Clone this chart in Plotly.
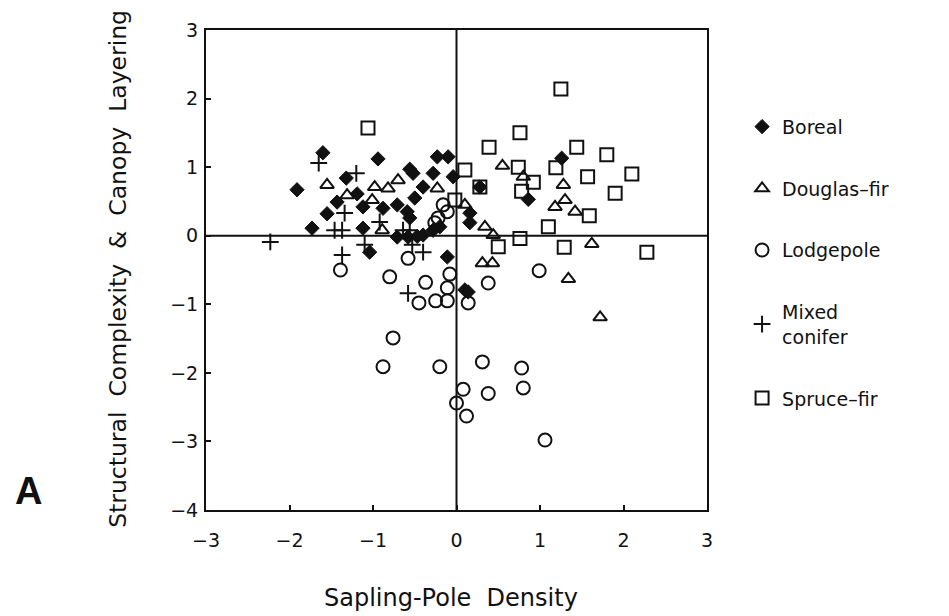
import plotly.graph_objects as go

# ---- data ----
boreal_x = [-1.91, -1.60, -1.32, -1.43, -1.55, -1.73, -0.94, -1.19, -1.12, -1.12, -1.04,
            -0.23, -0.10, -0.56, -0.52, -0.28, -0.04, -0.40, -0.50, -0.71, -0.59, -0.56,
            -0.88, -0.71, -0.58, -0.47, -0.40, -0.28, -0.20, -0.11, 0.16, 0.16, 0.28,
            0.86, 1.26, 0.10, 0.14]
boreal_y = [0.67, 1.21, 0.84, 0.49, 0.32, 0.11, 1.12, 0.61, 0.42, 0.11, -0.24,
            1.15, 1.15, 0.97, 0.91, 0.91, 0.86, 0.71, 0.55, 0.45, 0.35, 0.26,
            0.40, -0.02, -0.02, -0.01, 0.01, 0.08, 0.13, -0.31, 0.33, 0.19, 0.71,
            0.53, 1.13, -0.79, -0.82]

douglas_x = [-1.55, -1.31, -1.01, -0.98, -0.82, -0.70, -0.89, -0.23,
             0.55, 0.80, 1.28, 1.30, 1.18, 1.42, 0.10, 0.34, 0.44, 1.62,
             0.31, 0.43, 1.34, 1.72]
douglas_y = [0.74, 0.59, 0.52, 0.71, 0.69, 0.81, 0.08, 0.69,
             1.02, 0.86, 0.74, 0.52, 0.42, 0.35, 0.45, 0.13, 0.01, -0.12,
             -0.40, -0.40, -0.63, -1.19]

lodge_x = [-1.39, -0.58, -0.80, -0.37, -0.08, -0.11, -0.45, -0.25, -0.11, 0.14,
           0.38, 0.99, -0.76, -0.88, -0.20, 0.31, 0.78, 0.08, 0.38, 0.80,
           0.00, 0.12, 1.06, -0.16, -0.11, -0.22, -0.26]
lodge_y = [-0.50, -0.33, -0.60, -0.68, -0.56, -0.76, -0.98, -0.95, -0.95, -0.98,
           -0.69, -0.51, -1.49, -1.91, -1.91, -1.84, -1.93, -2.24, -2.30, -2.22,
           -2.44, -2.63, -2.98, 0.45, 0.35, 0.26, 0.19]

mixed_x = [-2.23, -1.65, -1.34, -1.46, -1.37, -1.37, -1.20, -1.10, -0.92,
           -0.64, -0.56, -0.53, -0.40, -0.58]
mixed_y = [-0.09, 1.06, 0.33, 0.08, 0.08, -0.28, 0.91, -0.13, 0.20,
           0.08, 0.08, -0.13, -0.24, -0.84]

spruce_x = [-1.06, 1.25, 0.76, 0.39, 1.44, 1.80, 0.10, 0.74, 1.19, 0.92, 1.57,
            2.10, 0.78, 1.90, 1.59, 0.28, -0.02, 1.10, 0.50, 0.76, 1.29, 2.28]
spruce_y = [1.57, 2.14, 1.50, 1.29, 1.29, 1.18, 0.96, 1.00, 0.99, 0.78, 0.86,
            0.90, 0.65, 0.62, 0.29, 0.71, 0.52, 0.13, -0.16, -0.04, -0.17, -0.24]

x_ticks = [-3, -2, -1, 0, 1, 2, 3]
y_ticks = [-4, -3, -2, -1, 0, 1, 2, 3]

FONT = "DejaVu Sans"
BLACK = "#111111"

series = [
    ("Boreal", boreal_x, boreal_y, dict(symbol="diamond", size=11, color=BLACK,
                                        line=dict(color=BLACK, width=1))),
    ("Douglas–fir", douglas_x, douglas_y, dict(symbol="triangle-up-open", size=12, color=BLACK,
                                               line=dict(color=BLACK, width=2))),
    ("Lodgepole", lodge_x, lodge_y, dict(symbol="circle-open", size=13, color=BLACK,
                                         line=dict(color=BLACK, width=2))),
    ("Mixed<br>conifer", mixed_x, mixed_y, dict(symbol="cross-thin-open", size=12, color=BLACK,
                                                line=dict(color=BLACK, width=2))),
    ("Spruce–fir", spruce_x, spruce_y, dict(symbol="square-open", size=13, color=BLACK,
                                            line=dict(color=BLACK, width=2))),
]

fig = go.Figure()
for i, (name, xs, ys, mk) in enumerate(series):
    fig.add_trace(go.Scatter(x=xs, y=ys, mode="markers", name=name, marker=mk,
                             legendgroup=str(i), cliponaxis=False))

# zero lines
fig.add_shape(type="line", xref="x", yref="y", x0=0, x1=0, y0=-4, y1=3,
              line=dict(color=BLACK, width=2), layer="below")
fig.add_shape(type="line", xref="x", yref="y", x0=-3, x1=3, y0=0, y1=0,
              line=dict(color=BLACK, width=2), layer="below")

axis_common = dict(showgrid=False, zeroline=False, showline=True, linecolor=BLACK,
                   linewidth=2, mirror=True, ticks="inside", ticklen=5, tickwidth=1.5,
                   tickcolor=BLACK, tickfont=dict(family=FONT, size=19, color=BLACK))

fig.update_xaxes(range=[-3, 3], tickvals=x_ticks, ticktext=[str(v).replace("-", "−") for v in x_ticks],
                 ticklabelstandoff=12, **axis_common)
fig.update_yaxes(range=[-4, 3], tickvals=y_ticks, ticktext=[str(v).replace("-", "−") for v in y_ticks],
                 ticklabelstandoff=2, **axis_common)

SP = "&nbsp;" * 2
fig.update_layout(
    width=949, height=616,
    margin=dict(l=206, r=242, t=30, b=106),
    paper_bgcolor="white", plot_bgcolor="white",
    font=dict(family=FONT, color=BLACK),
    showlegend=True,
    legend=dict(x=1.07, y=0.838, xanchor="left", yanchor="top",
                font=dict(family=FONT, size=19, color=BLACK),
                tracegroupgap=34, itemwidth=30, bgcolor="rgba(0,0,0,0)"),
    annotations=[
        dict(text=f"Sapling-Pole{SP}Density", x=0.49, y=-0.183, xref="paper", yref="paper",
             xanchor="center", yanchor="middle", showarrow=False,
             font=dict(family=FONT, size=24, color=BLACK)),
        dict(text=f"Structural{SP}Complexity{SP}&amp;{SP}Canopy{SP}Layering",
             x=-0.176, y=0.502, xref="paper", yref="paper", textangle=-90,
             xanchor="center", yanchor="middle",
             showarrow=False, font=dict(family=FONT, size=23.5, color=BLACK)),
        dict(text="<b>A</b>", x=-0.355, y=0.04, xref="paper", yref="paper",
             xanchor="center", yanchor="middle", showarrow=False,
             font=dict(family="Liberation Sans", size=38, color=BLACK)),
    ],
)

fig.write_html("out.html")
